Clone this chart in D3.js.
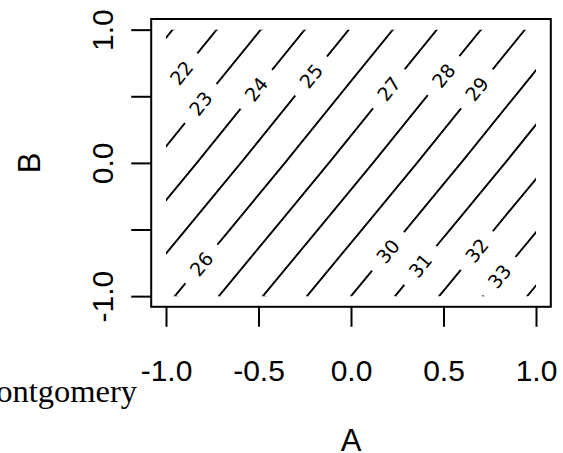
<!DOCTYPE html>
<html>
<head>
<meta charset="utf-8">
<script src="https://cdn.jsdelivr.net/npm/d3@7"></script>
<style>
  body { margin: 0; background: #fff; }
  svg { display: block; }
</style>
</head>
<body>
<script>
// fitted response on a coarse grid
var aValues = [-1, -0.5, 0, 0.5, 1];
var bValues = [1, 0.5, 0, -0.5, -1];   // rows, top to bottom
var zRows = [
  [20.85, 22.95, 25.05, 27.15, 29.25],
  [22.08, 24.18, 26.28, 28.38, 30.48],
  [23.30, 25.40, 27.50, 29.60, 31.70],
  [24.55, 26.65, 28.75, 30.85, 32.95],
  [25.80, 27.90, 30.00, 32.10, 34.20]
];
var levels = [21, 22, 23, 24, 25, 26, 27, 28, 29, 30, 31, 32, 33, 34];

// where R put the labels (A, B)
var labelLevels = [22, 23, 24, 25, 26, 27, 28, 29, 30, 31, 32, 33];
var labelA = [-0.915, -0.816, -0.51, -0.214, -0.816, 0.199, 0.505, 0.685, 0.199, 0.379, 0.685, 0.802];
var labelB = [0.675, 0.45, 0.55, 0.65, -0.75, 0.563, 0.65, 0.55, -0.663, -0.775, -0.663, -0.85];

var xTicks = [-1, -0.5, 0, 0.5, 1];
var xTickLabels = ["-1.0", "-0.5", "0.0", "0.5", "1.0"];
var yTicks = [-1, -0.5, 0, 0.5, 1];
var yTickLabels = ["-1.0", "", "0.0", "", "1.0"];

var width = 563, height = 453;
var sans = "'Liberation Sans', Arial, Helvetica, sans-serif";

var svg = d3.select("body").append("svg")
    .attr("width", width)
    .attr("height", height);

var x = d3.scaleLinear().domain([-1.08, 1.08]).range([151.2, 550.8]);
var y = d3.scaleLinear().domain([-1.08, 1.08]).range([306.8, 19]);

// grid index -> data (d3.contours puts value i at i + 0.5)
var n = aValues.length, m = bValues.length;
var gx = d3.scaleLinear().domain([0.5, n - 0.5]).range([x(aValues[0]), x(aValues[n - 1])]);
var gy = d3.scaleLinear().domain([0.5, m - 0.5]).range([y(bValues[0]), y(bValues[m - 1])]);

var contours = d3.contours().size([n, m]).thresholds(levels)(zRows.flat());

var project = d3.geoTransform({
  point: function(px, py) { this.stream.point(gx(px), gy(py)); }
});
var path = d3.geoPath(project);

var x0 = x(d3.min(aValues)), x1 = x(d3.max(aValues));
var y0 = y(d3.max(bValues)), y1 = y(d3.min(bValues));

svg.append("clipPath").attr("id", "grid-clip")
  .append("rect")
    .attr("x", x0).attr("y", y0)
    .attr("width", x1 - x0).attr("height", y1 - y0);

svg.append("g")
    .attr("clip-path", "url(#grid-clip)")
    .attr("fill", "none")
    .attr("stroke", "#000")
    .attr("stroke-width", 1.9)
  .selectAll("path")
  .data(contours)
  .join("path")
    .attr("d", path);

// labels: snap to the nearest piece of contour and follow its direction
function inside(p) {
  return p[0] >= x0 - 0.5 && p[0] <= x1 + 0.5 && p[1] >= y0 - 0.5 && p[1] <= y1 + 0.5;
}
function nearestSegment(level, px, py) {
  var c = contours.find(function(d) { return d.value === level; });
  var best = null;
  c.coordinates.forEach(function(poly) {
    poly.forEach(function(ring) {
      for (var i = 1; i < ring.length; i++) {
        var p = [gx(ring[i - 1][0]), gy(ring[i - 1][1])];
        var q = [gx(ring[i][0]), gy(ring[i][1])];
        if (!inside(p) || !inside(q)) continue;
        var dx = q[0] - p[0], dy = q[1] - p[1];
        var len2 = dx * dx + dy * dy;
        if (!len2) continue;
        var t = Math.max(0, Math.min(1, ((px - p[0]) * dx + (py - p[1]) * dy) / len2));
        var sx = p[0] + t * dx, sy = p[1] + t * dy;
        var dist = Math.hypot(px - sx, py - sy);
        if (!best || dist < best.dist) best = { dist: dist, x: sx, y: sy, angle: Math.atan2(dy, dx) * 180 / Math.PI };
      }
    });
  });
  return best;
}

var labelLayer = svg.append("g")
    .attr("font-family", "'DejaVu Sans', sans-serif")
    .attr("font-size", 19);

labelLevels.forEach(function(level, i) {
  var s = nearestSegment(level, x(labelA[i]), y(labelB[i]));
  if (!s) return;
  var angle = s.angle;
  if (angle > 90) angle -= 180;
  if (angle <= -90) angle += 180;
  var g = labelLayer.append("g")
      .attr("transform", "translate(" + s.x + "," + s.y + ") rotate(" + angle + ")");
  var bg = g.append("rect").attr("fill", "#fff");
  var t = g.append("text")
      .attr("text-anchor", "middle")
      .attr("dy", "0.36em")
      .text(level);
  var w = t.node().getComputedTextLength();
  bg.attr("x", -w / 2 - 13).attr("y", -10).attr("width", w + 26).attr("height", 20);
});

// box
svg.append("rect")
    .attr("x", x.range()[0]).attr("y", y.range()[1])
    .attr("width", x.range()[1] - x.range()[0])
    .attr("height", y.range()[0] - y.range()[1])
    .attr("fill", "none")
    .attr("stroke", "#000")
    .attr("stroke-width", 2);

// axes
var xAxis = svg.append("g")
    .attr("transform", "translate(0," + y.range()[0] + ")")
    .call(d3.axisBottom(x).tickValues(xTicks).tickSize(20)
      .tickFormat(function(d, i) { return xTickLabels[i]; }));
var yAxis = svg.append("g")
    .attr("transform", "translate(" + x.range()[0] + ",0)")
    .call(d3.axisLeft(y).tickValues(yTicks).tickSize(20)
      .tickFormat(function(d, i) { return yTickLabels[i]; }));

[xAxis, yAxis].forEach(function(ax) {
  ax.select(".domain").remove();
  ax.selectAll(".tick line").attr("stroke", "#000").attr("stroke-width", 2);
  ax.selectAll(".tick text")
      .attr("fill", "#000")
      .attr("font-family", sans)
      .attr("font-size", 30);
});
xAxis.selectAll(".tick text").attr("y", 74).attr("dy", null);
yAxis.selectAll(".tick text")
    .attr("x", null).attr("dy", null)
    .attr("text-anchor", "middle")
    .attr("transform", "translate(-38,0) rotate(-90)");

// titles
svg.append("text")
    .attr("x", (x(-1) + x(1)) / 2).attr("y", 450.5)
    .attr("text-anchor", "middle")
    .attr("font-family", sans).attr("font-size", 31)
    .text("A");
svg.append("text")
    .attr("transform", "translate(40," + (y(-1) + y(1)) / 2 + ") rotate(-90)")
    .attr("text-anchor", "middle")
    .attr("font-family", sans).attr("font-size", 31)
    .text("B");
svg.append("text")
    .attr("x", 137).attr("y", 401.5)
    .attr("text-anchor", "end")
    .attr("font-family", "'Liberation Serif', 'Times New Roman', serif")
    .attr("font-size", 32.5)
    .text("Montgomery");
</script>
</body>
</html>
